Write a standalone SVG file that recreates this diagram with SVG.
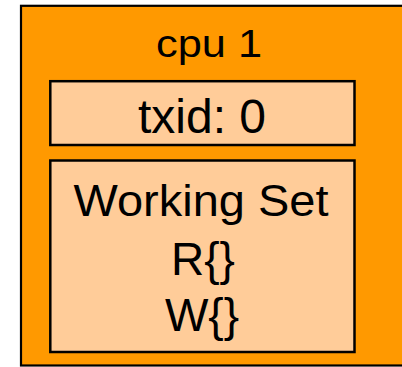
<svg xmlns="http://www.w3.org/2000/svg" width="402" height="367" viewBox="0 0 402 367">
<style>
text{font-family:"Liberation Sans",Arial,sans-serif;fill:#000;text-anchor:middle}
.box{fill:#FFCC99;stroke:#000;stroke-width:2.5}
</style>
<rect x="0" y="0" width="402" height="367" fill="#fff"/>
<g id="cpu">
<rect x="21" y="5.8" width="400" height="359.7" fill="#FF9900" stroke="#000" stroke-width="2.2"/>
<text x="209" y="57" font-size="39" textLength="106" lengthAdjust="spacingAndGlyphs">cpu 1</text>
</g>
<g id="txid">
<rect class="box" x="50.3" y="81.2" width="304.2" height="63.8"/>
<text x="202" y="133" font-size="48">txid: 0</text>
</g>
<g id="workingset">
<rect class="box" x="50.3" y="160.5" width="304.2" height="191.5"/>
<text x="201" y="216" font-size="44" textLength="255" lengthAdjust="spacingAndGlyphs">Working Set</text>
<text x="203" y="275" font-size="46">R{}</text>
<text x="202" y="331" font-size="46">W{}</text>
</g>
<g id="connectors"/>
</svg>
